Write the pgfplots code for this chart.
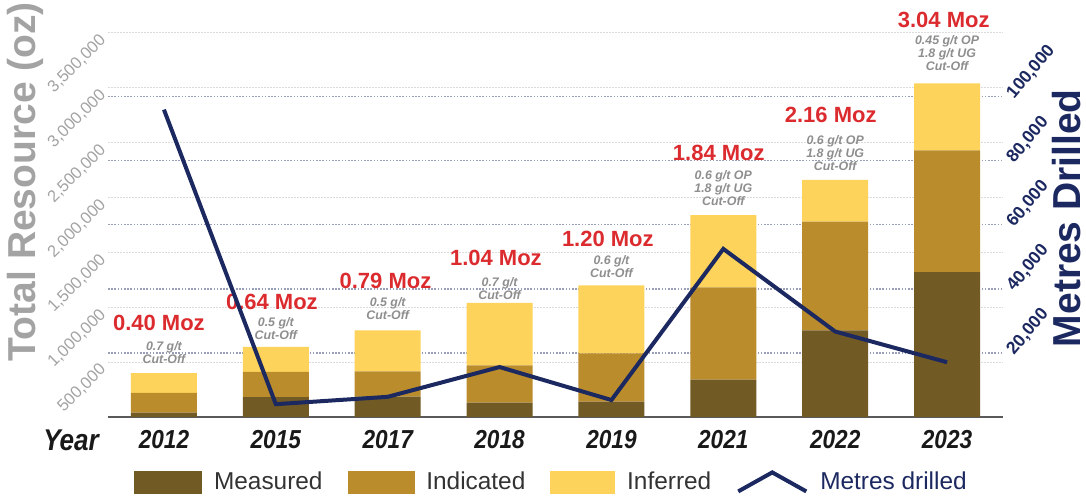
\documentclass[border=0pt]{standalone}
\usepackage{fontspec}
\setmainfont{Liberation Sans}
\newfontfamily\narrow[FakeStretch=0.87]{Liberation Sans}
\usepackage{pgfplots}
\pgfplotsset{compat=1.18}
\definecolor{meas}{HTML}{725A24}
\definecolor{ind}{HTML}{BB8C2C}
\definecolor{inf}{HTML}{FDD35B}
\definecolor{navy}{HTML}{1C2860}
\definecolor{lblred}{HTML}{DB2B2E}
\definecolor{gtext}{HTML}{8E8E8E}
\definecolor{axgray}{HTML}{A3A3A3}
\tikzset{moz/.style={font=\bfseries\fontsize{11}{11}\selectfont, text=lblred},
  cut/.style={align=center, font=\bfseries\itshape\fontsize{6.2}{6.5}\selectfont, text=gtext, inner sep=0pt}}
\begin{document}
\begin{tikzpicture}
\begin{axis}[
  scale only axis, width=447.5pt, height=198.5pt,
  xmin=-0.5, xmax=7.5, ymin=0, ymax=3617080,
  ybar stacked, bar width=33pt,
  xtick={0,...,7}, xticklabels={2012,2015,2017,2018,2019,2021,2022,2023},
  xticklabel style={font=\narrow\bfseries\itshape\fontsize{13}{13}\selectfont, text=black!90, anchor=center, yshift=-11.5pt},
  major tick length=0pt,
  axis x line*=bottom, axis y line*=left, separate axis lines,
  x axis line style={-, draw=black!65, line width=0.9pt},
  y axis line style={draw=none},
  ytick={500000,1000000,1500000,2000000,2500000,3000000,3500000},
  scaled y ticks=false,
  yticklabel style={/pgf/number format/fixed, /pgf/number format/1000 sep={,}, /pgf/number format/assume math mode=true, anchor=east, rotate=45, font=\fontsize{8.3}{8.3}\selectfont, text=axgray},
  ymajorgrids,
  major grid style={draw=black!14, line width=0.6pt, dash pattern=on 1pt off 0.5pt},
  extra y ticks={583400,1166800,1750200,2333600,2917000},
  extra y tick labels={},
  extra y tick style={grid=major, major grid style={draw=navy!45, line width=0.6pt, dash pattern=on 0.8pt off 0.8pt}},
  clip=false,
  ylabel={Total Resource (oz)},
  ylabel style={at={(axis description cs:-0.0927,0.593)}, anchor=center, font=\bfseries\fontsize{19.5}{19.5}\selectfont, text=axgray},
]
\addplot[fill=meas, draw=none] coordinates {(0,40000)(1,180000)(2,185000)(3,130000)(4,140000)(5,340000)(6,790000)(7,1320000)};
\addplot[fill=ind, draw=none] coordinates {(0,180000)(1,230000)(2,230000)(3,340000)(4,440000)(5,840000)(6,990000)(7,1110000)};
\addplot[fill=inf, draw=none] coordinates {(0,180000)(1,230000)(2,375000)(3,570000)(4,620000)(5,660000)(6,380000)(7,610000)};
\node[moz] at (axis cs:-0.045,857000) {0.40 Moz};
\node[moz] at (axis cs:0.965,1048000) {0.64 Moz};
\node[moz] at (axis cs:1.98,1240000) {0.79 Moz};
\node[moz] at (axis cs:2.967,1449000) {1.04 Moz};
\node[moz] at (axis cs:3.968,1623000) {1.20 Moz};
\node[moz] at (axis cs:4.96,2407000) {1.84 Moz};
\node[moz] at (axis cs:5.96,2753000) {2.16 Moz};
\node[moz] at (axis cs:6.97,3619000) {3.04 Moz};
\node[cut] at (axis cs:0,588000) {0.7 g/t\\Cut-Off};
\node[cut] at (axis cs:1,807000) {0.5 g/t\\Cut-Off};
\node[cut] at (axis cs:2,989000) {0.5 g/t\\Cut-Off};
\node[cut] at (axis cs:3,1167000) {0.7 g/t\\Cut-Off};
\node[cut] at (axis cs:4,1372000) {0.6 g/t\\Cut-Off};
\node[cut] at (axis cs:5,2088000) {0.6 g/t OP\\1.8 g/t UG\\Cut-Off};
\node[cut] at (axis cs:6,2407000) {0.6 g/t OP\\1.8 g/t UG\\Cut-Off};
\node[cut] at (axis cs:7,3318000) {0.45 g/t OP\\1.8 g/t UG\\Cut-Off};
\node[font=\narrow\bfseries\itshape\fontsize{15}{15}\selectfont, text=black!90] at (axis cs:-0.83,-210000) {Year};
\end{axis}
\begin{axis}[
  scale only axis, width=447.5pt, height=198.5pt,
  xmin=-0.5, xmax=7.5, ymin=0, ymax=124000,
  axis x line=none, axis y line*=right,
  y axis line style={draw=none},
  major tick length=0pt,
  ytick={20000,40000,60000,80000,100000},
  scaled y ticks=false,
  yticklabel style={/pgf/number format/fixed, /pgf/number format/1000 sep={,}, /pgf/number format/assume math mode=true, anchor=west, xshift=1.5pt, yshift=-2.5pt, rotate=50, font=\bfseries\fontsize{8.8}{8.8}\selectfont, text=navy},
  ylabel={Metres Drilled},
  ylabel style={at={(axis description cs:1.071,0.501)}, anchor=center, font=\bfseries\fontsize{19.5}{19.5}\selectfont, text=navy},
  clip=false,
  legend style={at={(0.4944,-0.164)}, anchor=center, draw=none, fill=none, legend columns=4, font=\fontsize{12.2}{12.2}\selectfont, text=black!80, nodes={inner sep=0pt},
    /tikz/every odd column/.append style={column sep=6pt},
    /tikz/every even column/.append style={column sep=12.5pt}},
]
\addlegendimage{legend image code/.code={\fill[meas] (0pt,-5.5pt) rectangle (33.5pt,5.5pt);}}
\addlegendentry{Measured}
\addlegendimage{legend image code/.code={\fill[ind] (0pt,-5.5pt) rectangle (33pt,5.5pt);}}
\addlegendentry{Indicated}
\addlegendimage{legend image code/.code={\fill[inf] (0pt,-5.5pt) rectangle (32pt,5.5pt);}}
\addlegendentry{Inferred}
\addplot[navy, line width=2pt, line join=miter, legend image code/.code={\draw[navy, line width=2pt, line join=miter] (0pt,-4.5pt) -- (17pt,5pt) -- (34pt,-4.5pt);}] coordinates {(0,96000)(1,4000)(2,6300)(3,15600)(4,5300)(5,52500)(6,26700)(7,17100)};
\addlegendentry{\textcolor{navy}{Metres drilled}}
\end{axis}
\pgfresetboundingbox
\path[use as bounding box] (-54pt,-39.5pt) rectangle (489pt,208.5pt);
\end{tikzpicture}
\end{document}
